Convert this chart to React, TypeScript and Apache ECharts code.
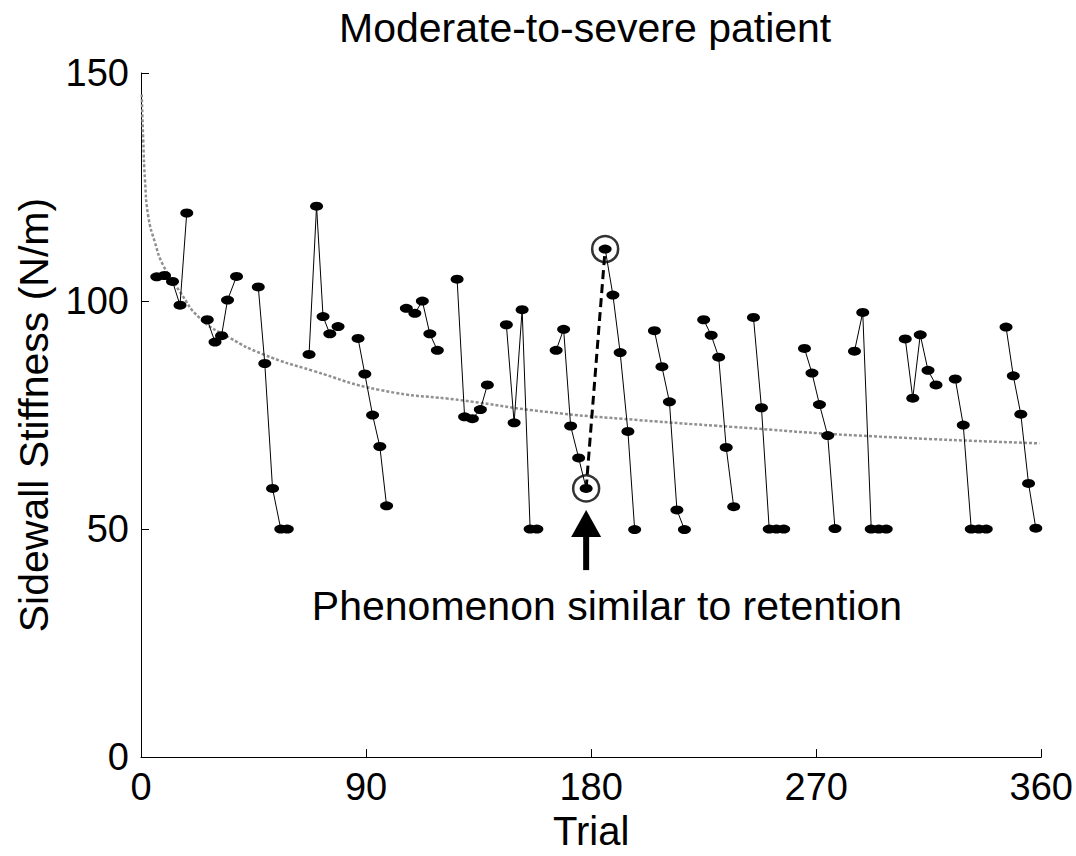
import React, { useEffect, useRef } from "react";
import * as echarts from "echarts";

// ---- data ----
// null marks a break between blocks of trials
const trials: (number | null)[] = [
  6.3, 9.4, 12.6, 15.6, 18.3, null,
  26.5, 29.6, 32.2, 34.6, 38.2, null,
  46.9, 49.5, 52.6, 55.9, 58.5, null,
  67.2, 70.2, 72.8, 75.5, 78.8, null,
  86.8, 89.5, 92.6, 95.5, 98.2, null,
  106.1, 109.5, 112.5, 115.5, 118.5, null,
  126.4, 129.4, 132.5, 135.7, 138.5, null,
  146.1, 149.2, 152.4, 155.6, 158.3, null,
  166.0, 169.0, 171.8, 175.0, 178.0, null,
  185.6, 188.7, 191.6, 194.7, 197.4, null,
  205.3, 208.3, 211.3, 214.3, 217.3, null,
  225.0, 228.0, 231.0, 234.0, 237.0, null,
  244.9, 248.1, 251.2, 254.1, 257.0, null,
  265.3, 268.3, 271.3, 274.6, 277.5, null,
  285.3, 288.6, 292.0, 295.0, 298.0, null,
  305.6, 308.6, 311.6, 314.7, 317.9, null,
  325.6, 328.8, 332.0, 335.0, 338.0, null,
  345.9, 348.8, 351.8, 354.9, 357.8,
];
const stiffness: (number | null)[] = [
  105.3, 105.6, 104.3, 99.1, 119.3, null,
  95.9, 91.0, 92.4, 100.2, 105.4, null,
  103.1, 86.3, 58.9, 50, 50, null,
  88.3, 120.8, 96.6, 92.8, 94.4, null,
  91.8, 84.0, 75.0, 68.1, 55.1, null,
  98.4, 97.3, 100.0, 92.8, 89.2, null,
  104.8, 74.6, 74.2, 76.2, 81.6, null,
  94.8, 73.3, 98.1, 50, 50, null,
  89.2, 93.8, 72.6, 65.6, 58.9, null,
  111.4, 101.3, 88.7, 71.4, 49.9, null,
  93.5, 85.6, 77.9, 54.2, 49.9, null,
  95.9, 92.5, 87.7, 67.9, 54.9, null,
  96.4, 76.6, 50, 50, 50, null,
  89.6, 84.2, 77.3, 70.5, 50.1, null,
  89.0, 97.5, 50, 50, 50, null,
  91.7, 78.7, 92.6, 84.8, 81.6, null,
  82.9, 72.8, 50, 50, 50, null,
  94.3, 83.6, 75.2, 60.0, 50.2,
];

// fitted trend curve (grey dashed)
const fitTrials = [0.3, 0.9, 1.6, 2.9, 5.6, 8.9, 15.6, 23.6, 35.6, 48.9, 68.8, 95.5, 128.8, 162, 199, 236.6, 287, 359.2];
const fitValues = [145.3, 135.2, 126.5, 118.6, 112.8, 107.8, 102.0, 96.2, 91.9, 88.3, 84.7, 80.5, 78.2, 75.7, 73.9, 72.4, 70.5, 68.8];

// highlighted retention-like jump
const retentionTrials = [178.0, 185.6];
const retentionValues = [58.9, 111.4];

// arrow below the retention point
const arrowTrial = 178;
const arrowTail = 41;
const arrowTip = 54.2;

const xTicks = [0, 90, 180, 270, 360];
const yTicks = [0, 50, 100, 150];

const TITLE = "Moderate-to-severe patient";
const X_NAME = "Trial";
const Y_NAME = "Sidewall Stiffness (N/m)";
const NOTE = "Phenomenon similar to retention";

const SANS = "'Liberation Sans', Arial, Helvetica, sans-serif";

export default function App() {
  const ref = useRef<HTMLDivElement>(null);

  useEffect(() => {
    document.body.style.margin = "0";
    if (!ref.current) return;
    const chart = echarts.init(ref.current, undefined, { renderer: "svg", width: 1076, height: 856 });

    const mainData = trials.map((t, i) =>
      t === null || stiffness[i] === null ? [t ?? 0, "-"] : [t, stiffness[i]]
    );
    const fitData = fitTrials.map((t, i) => [t, fitValues[i]]);
    const retData = retentionTrials.map((t, i) => [t, retentionValues[i]]);

    const axisCommon = {
      axisLine: { show: true, lineStyle: { color: "#000", width: 1 } },
      axisTick: { show: true, inside: true, length: 8, lineStyle: { color: "#000", width: 1 } },
      splitLine: { show: false },
    };

    chart.setOption({
      animation: false,
      backgroundColor: "#fff",
      title: {
        text: TITLE,
        left: 334,
        top: 2,
        textStyle: { fontFamily: SANS, fontSize: 41, fontWeight: "normal", color: "#000" },
      },
      grid: { left: 141, top: 73, width: 901, height: 695, containLabel: false },
      xAxis: {
        type: "value",
        min: xTicks[0],
        max: xTicks[xTicks.length - 1],
        interval: xTicks[1] - xTicks[0],
        name: X_NAME,
        nameLocation: "middle",
        nameGap: 45,
        nameTextStyle: { fontFamily: SANS, fontSize: 40, color: "#000" },
        axisLabel: { margin: 11, fontFamily: SANS, fontSize: 38, color: "#000" },
        ...axisCommon,
      },
      yAxis: {
        type: "value",
        min: yTicks[0],
        max: yTicks[yTicks.length - 1],
        interval: yTicks[1] - yTicks[0],
        name: Y_NAME,
        nameLocation: "middle",
        nameGap: 87,
        nameTextStyle: { fontFamily: SANS, fontSize: 41, color: "#000" },
        axisLabel: { margin: 12, fontFamily: SANS, fontSize: 38, color: "#000" },
        ...axisCommon,
      },
      series: [
        {
          name: "fit",
          type: "line",
          data: fitData,
          smooth: true,
          showSymbol: false,
          symbol: "none",
          lineStyle: { color: "#909090", width: 2.5, type: [3, 2] },
          z: 1,
        },
        {
          name: "stiffness",
          type: "line",
          data: mainData,
          connectNulls: false,
          symbol: "circle",
          symbolSize: [13, 9],
          itemStyle: { color: "#000" },
          lineStyle: { color: "#000", width: 1 },
          z: 3,
        },
        {
          name: "retention",
          type: "line",
          data: retData,
          symbol: "none",
          lineStyle: { color: "#000", width: 3, type: [9, 5] },
          z: 4,
        },
        {
          name: "circles",
          type: "scatter",
          data: retData,
          symbol: "circle",
          symbolSize: 26,
          itemStyle: { color: "rgba(0,0,0,0)", borderColor: "#000", borderWidth: 2.5 },
          z: 5,
        },
      ],
    });

    const [ax, tipY] = chart.convertToPixel({ gridIndex: 0 }, [arrowTrial, arrowTip]) as number[];
    const [, tailY] = chart.convertToPixel({ gridIndex: 0 }, [arrowTrial, arrowTail]) as number[];
    const headH = 27;
    const headW = 30;
    chart.setOption({
      graphic: [
        {
          type: "polygon",
          shape: { points: [[ax, tipY], [ax - headW / 2, tipY + headH], [ax + headW / 2, tipY + headH]] },
          style: { fill: "#000" },
          z: 10,
        },
        {
          type: "rect",
          shape: { x: ax - 3, y: tipY + headH - 1, width: 6, height: tailY - tipY - headH + 1 },
          style: { fill: "#000" },
          z: 10,
        },
        {
          type: "text",
          x: 607,
          y: 606,
          style: {
            text: NOTE,
            fontFamily: SANS,
            fontSize: 41,
            fill: "#000",
            align: "center",
            verticalAlign: "middle",
          },
          z: 10,
        },
      ],
    });

    return () => chart.dispose();
  }, []);

  return (
    <div
      ref={ref}
      style={{ position: "fixed", left: 0, top: 0, width: 1076, height: 856 }}
    />
  );
}
